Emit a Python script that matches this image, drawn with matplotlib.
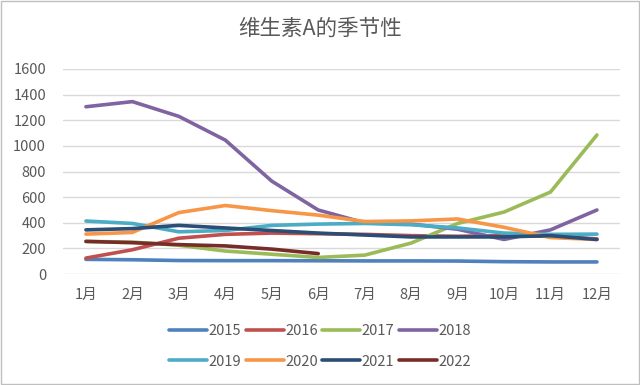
import numpy as np
import matplotlib.pyplot as plt
from matplotlib.patches import Rectangle

plt.rcParams['font.family'] = ['Noto Sans CJK SC', 'DejaVu Sans']

months = ["1月", "2月", "3月", "4月", "5月", "6月", "7月", "8月", "9月", "10月", "11月", "12月"]
years = ["2015", "2016", "2017", "2018", "2019", "2020", "2021", "2022"]

v2015 = [115, 112, 106, 105, 105, 104, 103, 103, 102, 97, 95, 95]
v2016 = [125, 190, 280, 310, 320, 315, 310, 300, 295, 300, 295, 275]
v2017 = [255, 250, 225, 180, 155, 130, 148, 242, 395, 484, 640, 1085]
v2018 = [1305, 1345, 1230, 1045, 725, 500, 400, 390, 350, 270, 345, 500]
v2019 = [414, 395, 330, 340, 380, 390, 395, 385, 360, 320, 310, 312]
v2020 = [312, 325, 480, 535, 495, 460, 410, 415, 430, 365, 285, 270]
v2021 = [345, 355, 380, 360, 340, 320, 305, 290, 290, 290, 300, 270]
v2022 = [255, 245, 230, 220, 195, 160]

series = [v2015, v2016, v2017, v2018, v2019, v2020, v2021, v2022]
colors = ["#4F81BD", "#C0504D", "#9BBB59", "#8064A2", "#4BACC6", "#F79646", "#2C4D75", "#772C2A"]

fig = plt.figure(figsize=(6.4, 3.85), dpi=100)
ax = fig.add_axes([0.098, 0.288, 0.871, 0.533])

lines = []
for name, vals, c in zip(years, series, colors):
    ln, = ax.plot(np.arange(len(vals)), vals, color=c, lw=2.6, label=name, solid_capstyle='round')
    lines.append(ln)

ax.set_xlim(-0.5, 11.5)
ax.set_ylim(0, 1600)
ax.set_yticks(range(0, 1601, 200))
ax.set_xticks(range(12))
ax.set_xticklabels(months)
ax.grid(axis='y', color='#D9D9D9', lw=1)
ax.set_axisbelow(True)
for s in ax.spines.values():
    s.set_visible(False)
ax.tick_params(length=0, colors='#595959', labelsize=10.5)
ax.tick_params(axis='x', pad=10)
ax.tick_params(axis='y', pad=12)

fig.text(0.5, 0.925, "维生素A的季节性", ha='center', va='center', fontsize=15.5, color='#595959')

# legend fills column by column, so reorder to get row-wise 2015..2018 / 2019..2022
order = [0, 4, 1, 5, 2, 6, 3, 7]
fig.legend([lines[i] for i in order], [years[i] for i in order],
           loc='center', bbox_to_anchor=(0.5, 0.1), ncol=4, frameon=False,
           handlelength=2.6, handletextpad=0.1, columnspacing=0.3, labelspacing=1.1,
           fontsize=10.5, labelcolor='#595959')

fig.add_artist(Rectangle((0.002, 0.003), 0.996, 0.994, transform=fig.transFigure,
                         fill=False, edgecolor='#BFBFBF', lw=1))

fig.savefig("out.png", dpi=100, facecolor='white')
